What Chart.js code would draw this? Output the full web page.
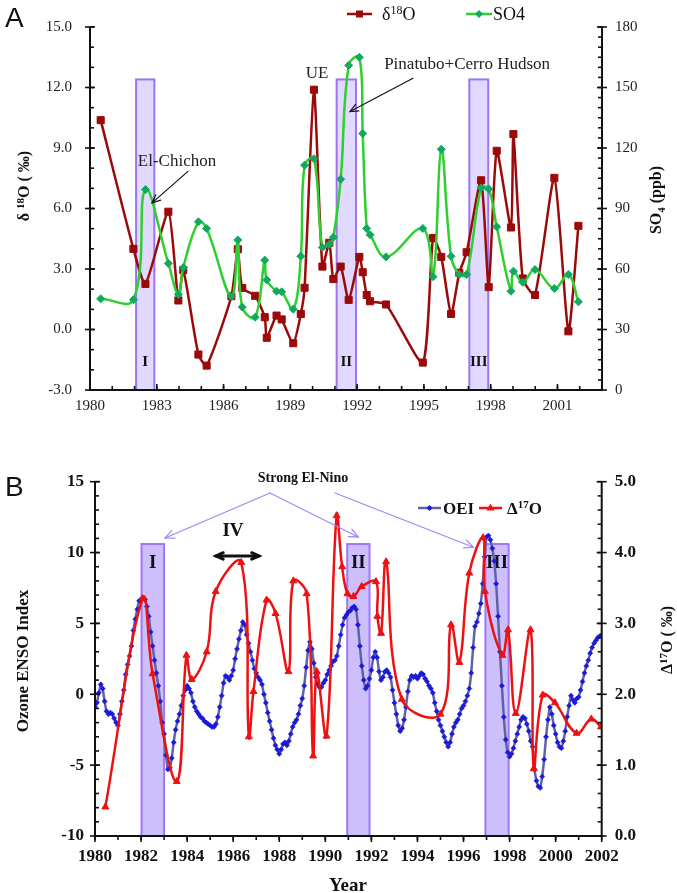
<!DOCTYPE html>
<html><head><meta charset="utf-8">
<script src="https://cdn.jsdelivr.net/npm/chart.js@4/dist/chart.umd.min.js"></script>
<style>
html,body{margin:0;padding:0;background:#fff;}
#wrap{position:relative;width:677px;height:893px;overflow:hidden;background:#fff;}
canvas{position:absolute;left:0;}
#cA{top:0;} #cB{top:430px;}
.plab{position:absolute;font-family:"Liberation Sans",Arial,sans-serif;font-size:28px;line-height:28px;color:#111;}
</style></head><body>
<div id="wrap">
<canvas id="cA" width="677" height="430"></canvas>
<canvas id="cB" width="677" height="463"></canvas>
<div class="plab" style="left:5px;top:4px">A</div>
<div class="plab" style="left:5px;top:473px">B</div>
</div>
<script>
// ---------------- DATA: panel A ----------------
const sampleYearsA = [1980.48,1981.95,1982.49,1983.52,1983.97,1984.19,1984.87,1985.24,1986.35,1986.64,1986.84,1987.42,1987.85,1987.94,1988.38,1988.61,1989.13,1989.47,1989.64,1990.06,1990.44,1990.75,1990.93,1991.26,1991.62,1992.10,1992.25,1992.43,1992.58,1993.30,1994.95,1995.41,1995.78,1996.22,1996.59,1996.92,1997.57,1997.91,1998.27,1998.91,1999.02,1999.44,1999.99,2000.86,2001.49,2001.94];
const d18O = [10.38,4.0,2.26,5.84,1.44,2.95,-1.24,-1.79,1.65,3.98,2.06,1.67,0.61,-0.41,0.69,0.50,-0.68,0.77,2.07,11.89,3.12,4.30,2.50,3.12,1.47,3.60,2.84,1.71,1.40,1.24,-1.64,4.54,3.60,0.77,2.81,3.83,7.40,2.10,8.86,5.06,9.69,2.53,1.71,7.52,-0.09,5.14];
const so4 = [45.2,44.8,99.4,62.8,47.4,60.7,83.4,80.1,46.3,74.4,41.1,36.1,64.4,54.6,49.0,48.7,40.1,66.3,111.5,114.7,70.7,72.3,75.7,104.5,161,165,127.2,80.1,77,66,80.1,56.2,119.4,66.3,57.3,57.3,100.2,99.7,80.9,49,58.9,53.4,59.7,50.3,57.3,43.7];
const periodsA = [[1982.07,1982.89],[1991.08,1991.95],[1997.04,1997.89]];
const periodTopA = 12.4;
const periodNames = ['I','II','III'];
const yearTicksA = [1980,1983,1986,1989,1992,1995,1998,2001];
const leftTicksA = [-3,0,3,6,9,12,15];
const rightTicksA = [0,30,60,90,120,150,180];

// ---------------- DATA: panel B ----------------
const oeiStartYear = 1980;
const oeiMonthly = [
 -0.9,-0.6,0.1,0.7,0.4,-0.5,-1.2,-1.4,-1.3,-1.4,-1.7,-2.0,
 -2.2,-1.4,-0.5,0.3,1.4,2.1,2.7,3.4,4.5,5.3,6.0,6.6,
 6.7,6.8,6.7,6.2,5.5,4.4,3.4,2.4,1.5,0.6,-0.5,-2.0,
 -2.8,-4.3,-5.3,-5.2,-4.5,-3.4,-2.5,-1.9,-1.4,-0.8,-0.1,0.3,
 0.6,0.4,0.1,-0.5,-0.9,-1.2,-1.4,-1.6,-1.7,-1.9,-2.0,-2.1,
 -2.2,-2.3,-2.3,-2.1,-1.6,-0.9,-0.1,0.8,1.3,1.2,1.0,1.3,
 1.7,2.5,3.2,3.9,4.5,5.1,4.9,4.2,3.6,3.0,2.4,1.8,
 1.5,1.2,1.0,0.7,0.0,-0.6,-1.3,-1.9,-2.5,-3.1,-3.6,-3.9,
 -4.2,-3.9,-3.5,-3.4,-3.6,-3.3,-2.8,-2.3,-2.0,-1.8,-1.4,-0.8,
 -0.3,0.6,1.9,3.1,3.7,3.2,2.2,1.2,0.7,0.5,0.5,0.8,
 1.0,1.4,1.7,2.0,2.3,2.4,2.7,3.4,4.2,4.9,5.4,5.6,
 5.8,5.9,6.1,6.2,6.0,4.9,3.4,2.0,1.0,0.4,0.6,1.1,
 1.7,2.6,3.0,2.6,1.6,1.0,1.2,1.6,1.7,1.5,1.2,0.3,
 -0.6,-1.4,-2.2,-2.6,-2.4,-1.8,-0.9,0.2,1.0,1.3,1.2,1.3,
 1.1,1.3,1.5,1.4,1.1,0.9,0.6,0.4,0.1,-0.6,-1.2,-1.8,
 -2.2,-2.6,-3.0,-3.4,-3.7,-3.4,-2.8,-2.3,-2.0,-1.8,-1.4,-1.0,
 -0.8,-0.5,-0.1,0.4,1.5,3.3,4.8,5.1,5.7,6.4,7.8,9.7,
 11.1,11.2,10.9,10.3,9.4,7.8,5.5,3.0,0.6,-1.6,-3.2,-4.1,
 -4.4,-4.2,-3.8,-3.3,-2.8,-2.3,-1.8,-1.6,-1.7,-2.1,-2.6,-3.3,
 -3.7,-5.3,-6.1,-6.5,-6.6,-5.8,-4.6,-3.0,-1.8,-0.9,-1.4,-2.2,
 -2.8,-3.4,-3.7,-3.8,-3.3,-2.6,-1.6,-0.8,-0.1,-0.4,-0.6,-0.3,
 -0.2,0.3,0.9,1.5,2.0,2.4,2.9,3.3,3.6,3.8,4.0,4.1,
 4.2
];
const d17OYears = [1980.45,1982.07,1982.5,1983.55,1983.97,1984.2,1984.85,1985.24,1986.35,1986.68,1986.88,1987.45,1987.84,1988.4,1988.61,1989.19,1989.47,1989.63,1990.05,1990.49,1990.73,1990.96,1991.22,1991.58,1992.2,1992.26,1992.42,1992.64,1993.32,1995.0,1995.46,1995.82,1996.25,1996.85,1996.93,1997.69,1997.93,1998.27,1998.91,1999.05,1999.44,1999.97,2000.91,2001.55,2001.97];
const d17O = [0.41,3.35,2.29,0.77,2.55,2.21,2.6,3.45,3.86,1.40,2.04,3.33,3.14,2.32,3.6,3.42,1.13,2.32,1.41,4.52,3.8,3.42,3.38,3.52,3.59,3.1,2.86,3.87,1.93,1.72,2.98,2.45,3.71,4.21,3.45,2.55,2.91,1.73,2.91,0.95,1.99,1.88,1.45,1.65,1.54];
const periodsB = [[1982.02,1983.0],[1990.95,1991.92],[1996.95,1997.96]];
const periodTopB = 10.6;
const yearTicksB = [1980,1982,1984,1986,1988,1990,1992,1994,1996,1998,2000,2002];
const leftTicksB = [-10,-5,0,5,10,15];
const rightTicksB = [0,1,2,3,4,5];

// ---------------- helpers ----------------
const SERIF = '"Liberation Serif","Times New Roman",serif';
function fnt(size,bold){return (bold?'bold ':'')+size+'px '+SERIF;}
function rich(ctx, parts, x, y, rot, align, color){
  ctx.save(); ctx.translate(x,y); if(rot) ctx.rotate(rot);
  let w=0; parts.forEach(p=>{ctx.font=fnt(p.s,p.b); p.w=ctx.measureText(p.t).width; w+=p.w;});
  let cx = align==='left'?0:-w/2;
  ctx.textBaseline='alphabetic'; ctx.textAlign='left'; ctx.fillStyle=color||'#111';
  parts.forEach(p=>{ctx.font=fnt(p.s,p.b); ctx.fillText(p.t,cx,(p.dy||0)+ (p.base||0)); cx+=p.w;});
  ctx.restore();
}
function arrow(ctx,x0,y0,x1,y1,color,lw,head,both){
  ctx.save(); ctx.strokeStyle=color; ctx.lineWidth=lw; ctx.lineCap='round';
  ctx.beginPath(); ctx.moveTo(x0,y0); ctx.lineTo(x1,y1); ctx.stroke();
  const hd=(xa,ya,xb,yb)=>{const a=Math.atan2(yb-ya,xb-xa);
    ctx.beginPath(); ctx.moveTo(xb-head*Math.cos(a-0.42),yb-head*Math.sin(a-0.42));
    ctx.lineTo(xb,yb); ctx.lineTo(xb-head*Math.cos(a+0.42),yb-head*Math.sin(a+0.42)); ctx.stroke();};
  hd(x0,y0,x1,y1); if(both) hd(x1,y1,x0,y0);
  ctx.restore();
}
function ticksFor(min,max,step){const a=[];for(let v=min;v<=max+1e-9;v+=step)a.push(+v.toFixed(4));return a;}
function drawAxes(chart, cfg){
  const ctx=chart.ctx, ca=chart.chartArea, xs=chart.scales.x, ys=chart.scales.y, y2=chart.scales.y2;
  ctx.save(); ctx.strokeStyle='#111'; ctx.lineWidth=2;
  ctx.beginPath(); ctx.moveTo(ca.left,ca.top); ctx.lineTo(ca.left,ca.bottom); ctx.lineTo(ca.right,ca.bottom); ctx.lineTo(ca.right,ca.top); ctx.stroke();
  ctx.lineWidth=1.6;
  const line=(a,b,c,d)=>{ctx.beginPath();ctx.moveTo(a,b);ctx.lineTo(c,d);ctx.stroke();};
  ticksFor(ys.min,ys.max,cfg.yMinor).forEach(v=>{const p=ys.getPixelForValue(v);line(ca.left,p,ca.left+4,p);});
  ticksFor(ys.min,ys.max,cfg.yMajor).forEach(v=>{const p=ys.getPixelForValue(v);line(ca.left-5,p,ca.left+5,p);});
  ticksFor(y2.min,y2.max,cfg.y2Minor).forEach(v=>{const p=y2.getPixelForValue(v);line(ca.right-4,p,ca.right,p);});
  ticksFor(y2.min,y2.max,cfg.y2Major).forEach(v=>{const p=y2.getPixelForValue(v);line(ca.right-5,p,ca.right+5,p);});
  ticksFor(xs.min,xs.max,cfg.xMinor).forEach(v=>{const p=xs.getPixelForValue(v);
    if(cfg.xOut) line(p,ca.bottom,p,ca.bottom+4); else line(p,ca.bottom,p,ca.bottom-4);});
  ticksFor(xs.min,xs.max,cfg.xMajor).forEach(v=>{const p=xs.getPixelForValue(v);
    if(cfg.xOut) line(p,ca.bottom,p,ca.bottom+6); else line(p,ca.bottom,p,ca.bottom-6);});
  ctx.restore();
}
function drawPeriods(chart, periods, top, fill, stroke, romanY, romanSize){
  const ctx=chart.ctx, xs=chart.scales.x, ys=chart.scales.y;
  ctx.save();
  periods.forEach((p,i)=>{
    const x0=xs.getPixelForValue(p[0]), x1=xs.getPixelForValue(p[1]);
    const y0=ys.getPixelForValue(top), y1=ys.getPixelForValue(ys.min);
    ctx.fillStyle=fill; ctx.fillRect(x0,y0,x1-x0,y1-y0);
    ctx.strokeStyle=stroke; ctx.lineWidth=2; ctx.strokeRect(x0,y0,x1-x0,y1-y0);
    ctx.fillStyle='#111'; ctx.font=fnt(romanSize,true); ctx.textAlign='center'; ctx.textBaseline='middle';
    ctx.fillText(periodNames[i],(x0+x1)/2,ys.getPixelForValue(romanY));
  });
  ctx.restore();
}

Chart.defaults.font.family = SERIF;

// ---------------- Panel A ----------------
const plugA = {
  id:'decoA',
  beforeDatasetsDraw(chart){ drawPeriods(chart, periodsA, periodTopA, 'rgba(218,208,255,0.8)', '#9d74f2', -1.6, 15); },
  afterDraw(chart){
    const ctx=chart.ctx, xs=chart.scales.x, ys=chart.scales.y;
    drawAxes(chart,{yMinor:1,yMajor:3,y2Minor:5,y2Major:30,xMinor:1,xMajor:3,xOut:false});
    // axis titles
    rich(ctx,[{t:'δ ',s:16,b:true},{t:'18',s:11,b:true,dy:-5},{t:'O ( ‰)',s:16,b:true}],29,186,-Math.PI/2);
    rich(ctx,[{t:'SO',s:16,b:true},{t:'4',s:11,b:true,dy:4},{t:' (ppb)',s:16,b:true}],661,200,-Math.PI/2);
    // legend
    ctx.save();
    ctx.strokeStyle='#9b0a0a'; ctx.lineWidth=2.5; ctx.beginPath(); ctx.moveTo(347,14); ctx.lineTo(372,14); ctx.stroke();
    ctx.fillStyle='#9b0a0a'; ctx.fillRect(356,10.5,7,7);
    ctx.strokeStyle='#2fcf2f'; ctx.beginPath(); ctx.moveTo(466,14); ctx.lineTo(492,14); ctx.stroke();
    ctx.fillStyle='#12a860'; ctx.beginPath(); ctx.moveTo(479,10); ctx.lineTo(483,14); ctx.lineTo(479,18); ctx.lineTo(475,14); ctx.closePath(); ctx.fill();
    ctx.restore();
    rich(ctx,[{t:'δ',s:18},{t:'18',s:12,dy:-6},{t:'O',s:18}],382,20,0,'left','#111');
    rich(ctx,[{t:'SO4',s:18}],493,20,0,'left','#111');
    // annotations
    ctx.save(); ctx.font=fnt(17,false); ctx.fillStyle='#222'; ctx.textAlign='center'; ctx.textBaseline='middle';
    ctx.fillText('El-Chichon', xs.getPixelForValue(1983.91), ys.getPixelForValue(8.31));
    ctx.fillText('UE', xs.getPixelForValue(1990.2), ys.getPixelForValue(12.69));
    ctx.fillText('Pinatubo+Cerro Hudson', xs.getPixelForValue(1996.94), ys.getPixelForValue(13.16));
    ctx.restore();
    arrow(ctx, xs.getPixelForValue(1984.4), ys.getPixelForValue(7.84), xs.getPixelForValue(1982.79), ys.getPixelForValue(6.28), '#111', 1.2, 9);
    arrow(ctx, xs.getPixelForValue(1994.51), ys.getPixelForValue(12.46), xs.getPixelForValue(1991.68), ys.getPixelForValue(10.81), '#111', 1.2, 9);
  }
};

new Chart(document.getElementById('cA'), {
  type:'line',
  data:{datasets:[
    {label:'SO4', data: sampleYearsA.map((x,i)=>({x:x,y:so4[i]})), yAxisID:'y2', order:0,
     borderColor:'#2fcf2f', borderWidth:2.5, tension:0.4,
     pointStyle:'rectRot', pointRadius:4, pointBackgroundColor:'#12a860', pointBorderColor:'#12a860', pointBorderWidth:1},
    {label:'δ18O', data: sampleYearsA.map((x,i)=>({x:x,y:d18O[i]})), yAxisID:'y', order:1,
     borderColor:'#9b0a0a', borderWidth:2.5, tension:0.2,
     pointStyle:'rect', pointRadius:5, pointBackgroundColor:'#9b0a0a', pointBorderColor:'#9b0a0a', pointBorderWidth:1}
  ]},
  options:{responsive:false, animation:false, devicePixelRatio:1,
    layout:{padding:{top:8,left:0,right:0,bottom:0}},
    plugins:{legend:{display:false}, tooltip:{enabled:false}},
    scales:{
      x:{type:'linear', min:1980, max:2003, grid:{display:false,drawTicks:false}, border:{display:false},
         afterBuildTicks:s=>{s.ticks=yearTicksA.map(v=>({value:v}));}, afterFit:s=>{s.height=40;},
         ticks:{autoSkip:false,maxRotation:0,padding:7,color:'#222',font:{family:SERIF,size:15},callback:v=>String(v)}},
      y:{type:'linear', position:'left', min:-3, max:15, grid:{display:false,drawTicks:false}, border:{display:false},
         afterBuildTicks:s=>{s.ticks=leftTicksA.map(v=>({value:v}));}, afterFit:s=>{s.width=90;},
         ticks:{padding:18,color:'#222',font:{family:SERIF,size:15},callback:v=>Number(v).toFixed(1)}},
      y2:{type:'linear', position:'right', min:0, max:180, grid:{display:false,drawTicks:false}, border:{display:false},
         afterBuildTicks:s=>{s.ticks=rightTicksA.map(v=>({value:v}));}, afterFit:s=>{s.width=75;},
         ticks:{padding:13,color:'#222',font:{family:SERIF,size:15},callback:v=>String(v)}}
    }
  },
  plugins:[plugA]
});

// ---------------- Panel B ----------------
const plugB = {
  id:'decoB',
  beforeDatasetsDraw(chart){ drawPeriods(chart, periodsB, periodTopB, 'rgba(196,180,250,0.85)', '#a077f5', 9.26, 19); },
  afterDraw(chart){
    const ctx=chart.ctx, xs=chart.scales.x, ys=chart.scales.y, ca=chart.chartArea;
    drawAxes(chart,{yMinor:1,yMajor:5,y2Minor:0.2,y2Major:1,xMinor:1,xMajor:2,xOut:true});
    rich(ctx,[{t:'Ozone ENSO Index',s:17,b:true}],28,231,-Math.PI/2);
    rich(ctx,[{t:'Δ',s:16,b:true},{t:'17',s:11,b:true,dy:-5},{t:'O ( ‰)',s:16,b:true}],672,210,-Math.PI/2);
    rich(ctx,[{t:'Year',s:19,b:true}],348,461,0);
    // legend
    ctx.save();
    ctx.strokeStyle='rgb(96,98,168)'; ctx.lineWidth=2.5; ctx.beginPath(); ctx.moveTo(418,78); ctx.lineTo(441,78); ctx.stroke();
    ctx.fillStyle='#1a1ad8'; ctx.beginPath(); ctx.moveTo(429.5,75); ctx.lineTo(432.5,78); ctx.lineTo(429.5,81); ctx.lineTo(426.5,78); ctx.closePath(); ctx.fill();
    ctx.strokeStyle='#ee1111'; ctx.beginPath(); ctx.moveTo(479,78); ctx.lineTo(502,78); ctx.stroke();
    ctx.fillStyle='#ee1111'; ctx.beginPath(); ctx.moveTo(490.5,73.5); ctx.lineTo(494.5,80.5); ctx.lineTo(486.5,80.5); ctx.closePath(); ctx.fill();
    ctx.restore();
    rich(ctx,[{t:'OEI',s:17,b:true}],443,84,0,'left');
    rich(ctx,[{t:'Δ',s:17,b:true},{t:'17',s:11,b:true,dy:-6},{t:'O',s:17,b:true}],507,84,0,'left');
    // Strong El-Nino annotation
    ctx.save(); ctx.font=fnt(14,true); ctx.fillStyle='#111'; ctx.textAlign='center'; ctx.textBaseline='middle';
    ctx.fillText('Strong El-Nino', xs.getPixelForValue(1989.03), ys.getPixelForValue(15.26));
    ctx.font=fnt(19,true);
    ctx.fillText('IV', xs.getPixelForValue(1985.99), ys.getPixelForValue(11.52));
    ctx.restore();
    const ax=xs.getPixelForValue(1987.6), ay=ys.getPixelForValue(14.2);
    arrow(ctx, ax, ay, xs.getPixelForValue(1983.04), ys.getPixelForValue(11.03), '#a385f5', 1.2, 10);
    arrow(ctx, ax, ay, xs.getPixelForValue(1991.43), ys.getPixelForValue(11.1), '#a385f5', 1.2, 10);
    arrow(ctx, xs.getPixelForValue(1990.42), ys.getPixelForValue(14.2), xs.getPixelForValue(1996.43), ys.getPixelForValue(10.37), '#a385f5', 1.2, 10);
    arrow(ctx, xs.getPixelForValue(1985.25), ys.getPixelForValue(9.76), xs.getPixelForValue(1987.12), ys.getPixelForValue(9.76), '#111', 3, 8, true);
  }
};

new Chart(document.getElementById('cB'), {
  type:'line',
  data:{datasets:[
    {label:'Δ17O', data: d17OYears.map((x,i)=>({x:x,y:d17O[i]})), yAxisID:'y2', order:0,
     borderColor:'#ee1111', borderWidth:2.5, tension:0.4,
     pointStyle:'triangle', pointRadius:4, pointBackgroundColor:'#ee1111', pointBorderColor:'#ee1111', pointBorderWidth:1},
    {label:'OEI', data: oeiMonthly.map((v,i)=>({x:oeiStartYear+i/12,y:v})), yAxisID:'y', order:1,
     borderColor:'rgb(96,98,168)', borderWidth:2.5, tension:0.15,
     pointStyle:'rectRot', pointRadius:2.6, pointBackgroundColor:'#1a1ad8', pointBorderColor:'#1a1ad8', pointBorderWidth:0.5}
  ]},
  options:{responsive:false, animation:false, devicePixelRatio:1,
    layout:{padding:{top:51.7,left:0,right:0,bottom:0}},
    plugins:{legend:{display:false}, tooltip:{enabled:false}},
    scales:{
      x:{type:'linear', min:1980, max:2002, grid:{display:false,drawTicks:false}, border:{display:false},
         afterBuildTicks:s=>{s.ticks=yearTicksB.map(v=>({value:v}));}, afterFit:s=>{s.height=57;},
         ticks:{autoSkip:false,maxRotation:0,padding:10,color:'#111',font:{family:SERIF,size:17,weight:'bold'},callback:v=>String(v)}},
      y:{type:'linear', position:'left', min:-10, max:15, grid:{display:false,drawTicks:false}, border:{display:false},
         afterBuildTicks:s=>{s.ticks=leftTicksB.map(v=>({value:v}));}, afterFit:s=>{s.width=95;},
         ticks:{padding:11,color:'#111',font:{family:SERIF,size:17,weight:'bold'},callback:v=>String(v)}},
      y2:{type:'linear', position:'right', min:0, max:5, grid:{display:false,drawTicks:false}, border:{display:false},
         afterBuildTicks:s=>{s.ticks=rightTicksB.map(v=>({value:v}));}, afterFit:s=>{s.width=75.3;},
         ticks:{padding:13,color:'#111',font:{family:SERIF,size:17,weight:'bold'},callback:v=>Number(v).toFixed(1)}}
    }
  },
  plugins:[plugB]
});
</script>
</body></html>
